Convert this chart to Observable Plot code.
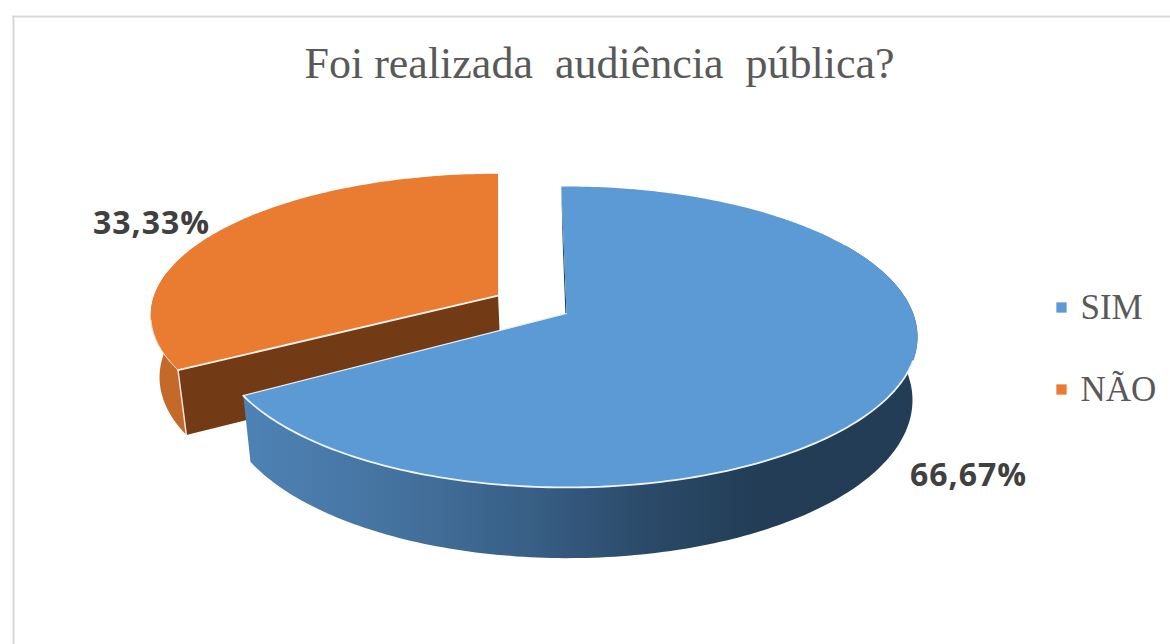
<!DOCTYPE html>
<html lang="pt">
<head>
<meta charset="utf-8">
<title>Foi realizada audiência pública?</title>
<style>
  html, body { margin: 0; padding: 0; background: #fff; }
  svg { display: block; }
</style>
<script src="https://cdn.jsdelivr.net/npm/d3@7"></script>
<script src="https://cdn.jsdelivr.net/npm/@observablehq/plot@0.6"></script>
</head>
<body>
<div id="chart"></div>
<script>
// Survey answers and their shares, in percent
const categories = ["SIM", "NÃO"];
const shares = [66.67, 33.33];
const topColors = ["#5b9ad5", "#ea7c31"];
const titleText = "Foi realizada  audiência  pública?";

const W = 1170, H = 644;

// Tilted-disc projection: unit disc coordinates to the page, with perspective
const apex = {x: 566, y: 313};
const mainDisc = {rx: 346.7, ry: 146.8, k: 0.156, turn: 0};
const pulledDisc = {rx: 344, ry: 138.8, k: 0.138, turn: 1};
const startAngle = -1;          // degrees clockwise from 12 o'clock
const explodeBy = 0.23;         // pull-out of the smaller slice, in disc radii
const explodedLift = 0.012;
const depth = {shrinkX: 0.982, shiftX: 1.3, shrinkY: 1.05, drop: 62};

function onDisc(disc, X, Y) {
  const w = 1 / (1 - disc.k * Y);
  return {x: disc.rx * X * w, y: disc.ry * Y * w};
}
// Pushes a point on the top face down to the matching point on the bottom face
function lowered(p) {
  return {
    x: apex.x + (p.x - apex.x) * depth.shrinkX + depth.shiftX,
    y: apex.y + (p.y - apex.y) * depth.shrinkY + depth.drop
  };
}

// Slice angles follow directly from the shares
const total = d3.sum(shares);
let running = startAngle;
const slices = categories.map((name, i) => {
  const a0 = running, a1 = running + shares[i] / total * 360;
  running = a1;
  const mid = (a0 + a1) / 2 * Math.PI / 180;
  const pulled = i === 1;
  const off = pulled ? explodeBy : 0;
  const c = onDisc(mainDisc, off * Math.sin(mid), -off * Math.cos(mid) - (pulled ? explodedLift : 0));
  return {name, a0, a1, disc: pulled ? pulledDisc : mainDisc, cx: apex.x + c.x, cy: apex.y + c.y};
});

function rimPoint(s, deg, lower) {
  const t = (deg + s.disc.turn) * Math.PI / 180;
  const p = onDisc(s.disc, Math.sin(t), -Math.cos(t));
  const top = {x: s.cx + p.x, y: s.cy + p.y};
  return lower ? lowered(top) : top;
}
function centrePoint(s, lower) {
  const top = {x: s.cx, y: s.cy};
  return lower ? lowered(top) : top;
}
function arc(s, from, to, lower) {
  const n = Math.max(2, Math.ceil(Math.abs(to - from)));
  return d3.range(n + 1).map(k => rimPoint(s, from + (to - from) * k / n, lower));
}
const topFace = s => [centrePoint(s), ...arc(s, s.a0, s.a1)];
const outerWall = (s, from, to) => [...arc(s, from, to), ...arc(s, to, from, true)];
const cutWall = (s, deg) => [centrePoint(s), rimPoint(s, deg), rimPoint(s, deg, true), centrePoint(s, true)];

const [sim, nao] = slices;
const face = (pts, fill) => Plot.line(pts, {x: "x", y: "y", fill, stroke: "none"});
const edge = (pts, stroke, strokeWidth) =>
  Plot.line(pts, {x: "x", y: "y", stroke, strokeWidth, strokeLinecap: "round", strokeLinejoin: "round"});

// Horizontal shading of the large slice's outer wall
const wallShade = () => {
  const defs = d3.create("svg:defs");
  const g = defs.append("linearGradient")
    .attr("id", "wallShade")
    .attr("gradientUnits", "userSpaceOnUse")
    .attr("x1", 245).attr("x2", 760).attr("y1", 0).attr("y2", 0);
  [[0, "#4e82b5"], [0.3, "#44729e"], [0.55, "#385f86"], [0.78, "#2b4a69"], [1, "#223d55"]]
    .forEach(([o, c]) => g.append("stop").attr("offset", o).attr("stop-color", c));
  return defs.node();
};

const spaced = (letter) => ({
  render(index, scales, values, dims, ctx, next) {
    const g = next(index, scales, values, dims, ctx);
    d3.select(g).selectAll("text").style("letter-spacing", letter);
    return g;
  }
});

const serif = "'Liberation Serif', serif";
const sans = "'Open Sans', 'Noto Sans', sans-serif";
const pct = v => v.toFixed(2).replace(".", ",") + "%";

const legendX = 1061, legendY = [307, 389];
const legend = categories.map((name, i) => ({name, color: topColors[i], x: legendX, y: legendY[i]}));
const valueLabels = [
  {t: pct(shares[0]), x: 968, y: 475},
  {t: pct(shares[1]), x: 151, y: 223}
];

const chart = Plot.plot({
  width: W, height: H,
  margin: 0,
  x: {domain: [0, W], range: [0, W], axis: null},
  y: {domain: [0, H], range: [0, H], axis: null},
  marks: [
    wallShade,
    // chart frame
    Plot.ruleX([13], {y1: 16, y2: H, stroke: "#d9d9d9", strokeWidth: 2}),
    Plot.ruleY([16], {x1: 12, x2: W, stroke: "#d9d9d9", strokeWidth: 2}),

    // pulled-out slice: walls first, then its top face
    face(outerWall(nao, nao.a0 + 40, nao.a0), "#c4692a"),
    face(cutWall(nao, nao.a0), "#733b15"),
    edge([rimPoint(nao, nao.a0), rimPoint(nao, nao.a0, true)], "#f3e6dc", 1.5),
    face(topFace(nao), topColors[1]),
    edge([rimPoint(nao, nao.a0), centrePoint(nao)], "#fdf3ec", 1.8),
    edge(arc(nao, nao.a0 + 20, nao.a0), "#f6e3d5", 1),

    // large slice: inner sliver, outer wall, then its top face
    face(cutWall(sim, sim.a0), "#1f3b57"),
    face(outerWall(sim, 60, sim.a1), "url(#wallShade)"),
    face(topFace(sim), topColors[0]),
    edge(arc(sim, 108, sim.a1), "#eef3f8", 1.8),
    edge([rimPoint(sim, sim.a1), centrePoint(sim)], "#e6eef6", 1.2),

    // value labels
    Plot.text(valueLabels, {x: "x", y: "y", text: "t", fontFamily: sans, fontWeight: 700, fontSize: 32, fill: "#404040", ...spaced("1px")}),

    // legend
    Plot.dot(legend, {x: "x", y: "y", symbol: "square", r: 5.8, fill: "color", stroke: "none"}),
    Plot.text(legend, {x: d => d.x + 19, y: "y", text: "name", textAnchor: "start", fontFamily: serif, fontSize: 35, fill: "#595959"}),

    // title
    Plot.text([titleText], {x: () => 599, y: () => 63, text: d => d, fontFamily: serif, fontSize: 44, fill: "#595959"})
  ]
});
document.getElementById("chart").append(chart);
</script>
</body>
</html>
